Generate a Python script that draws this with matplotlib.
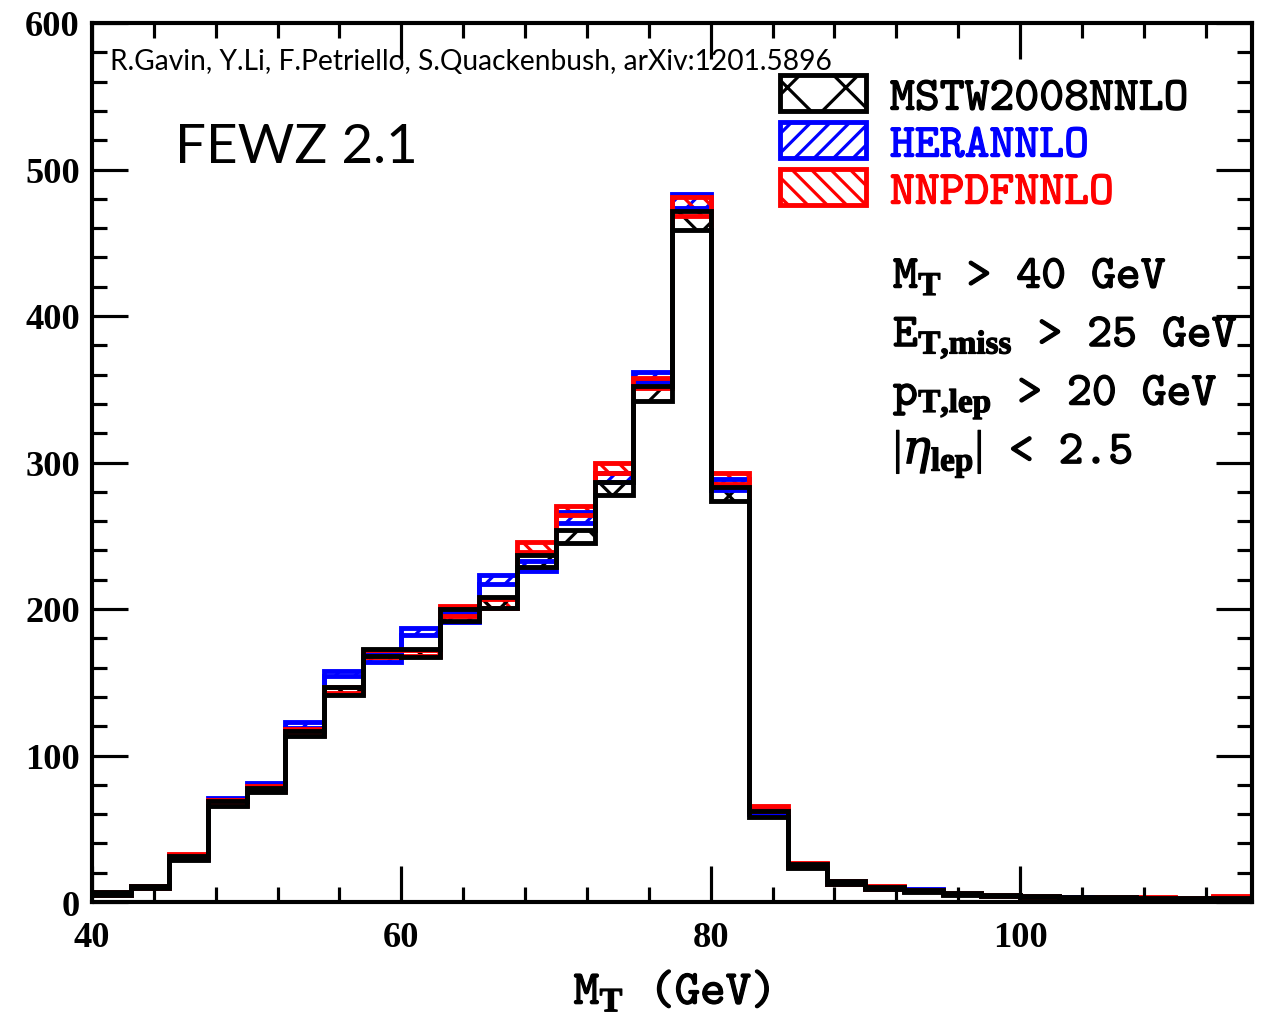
import numpy as np
import matplotlib
matplotlib.use("Agg")
import matplotlib.pyplot as plt
import matplotlib.patheffects as pe
from matplotlib.patches import Patch

# Bin edges of the transverse-mass histogram (GeV)
mt_edges = np.arange(40.0, 115.0 + 0.01, 2.5)

# PDF uncertainty bands per bin: lower / upper edge of d(sigma)/dM_T
mstw_lo = [5.0, 9.5, 29.0, 65.5, 75.0, 113.0, 141.0, 168.0, 167.0, 192.0,
           201.0, 229.0, 245.0, 278.0, 342.0, 459.0, 274.0, 58.0, 23.5, 12.5,
           9.0, 7.0, 5.0, 4.0, 3.4, 2.9, 2.6, 2.3, 2.1, 2.0]
mstw_hi = [6.5, 11.0, 31.5, 69.0, 78.0, 117.0, 147.0, 173.0, 173.0, 200.0,
           208.0, 237.0, 254.0, 287.0, 352.0, 472.0, 283.0, 62.0, 26.0, 14.0,
           10.5, 8.2, 6.0, 4.8, 4.2, 3.6, 3.2, 2.9, 2.7, 2.6]

hera_lo = [5.0, 9.5, 29.5, 68.0, 78.0, 119.0, 154.0, 164.0, 182.0, 191.0,
           217.0, 226.0, 259.0, 287.0, 355.0, 474.0, 281.0, 60.0, 24.0, 12.0,
           9.0, 7.5, 5.5, 4.3, 3.6, 3.0, 2.6, 2.3, 2.1, 2.0]
hera_hi = [6.5, 11.0, 32.0, 71.0, 81.0, 123.0, 158.0, 169.0, 187.0, 197.0,
           223.0, 233.0, 266.0, 293.0, 362.0, 483.0, 289.0, 63.0, 26.0, 14.0,
           10.5, 8.6, 6.3, 5.0, 4.3, 3.7, 3.2, 2.9, 2.7, 2.6]

nnpdf_lo = [5.0, 9.5, 30.0, 66.0, 76.0, 114.0, 143.0, 167.0, 168.0, 195.0,
            201.0, 239.0, 264.0, 293.0, 351.0, 468.0, 285.0, 62.0, 24.0, 12.5,
            9.2, 7.2, 5.2, 4.0, 3.2, 1.8, 2.4, 2.4, 1.7, 3.4]
nnpdf_hi = [6.5, 11.0, 32.5, 69.5, 79.0, 118.0, 147.0, 172.0, 172.0, 202.0,
            207.0, 246.0, 270.0, 300.0, 358.0, 481.0, 293.0, 65.5, 26.5, 14.0,
            10.6, 8.4, 6.2, 4.8, 4.0, 2.6, 3.2, 3.1, 2.4, 4.2]

pdf_names = ["MSTW2008NNLO", "HERANNLO", "NNPDFNNLO"]
pdf_colors = ["black", "blue", "red"]
pdf_hatches = ["x", "///", "\\\\\\"]

cut_labels = [
    r"M$_\mathbf{T}$ > 40 GeV",
    r"E$_\mathbf{T{,}miss}$ > 25 GeV",
    r"p$_\mathbf{T{,}lep}$ > 20 GeV",
    r"$|\eta_\mathbf{lep}|$ < 2.5",
]

y_ticks = [0, 100, 200, 300, 400, 500, 600]
x_ticks = [40, 60, 80, 100]

W, H, DPI = 1265, 1018, 175
plt.rcParams["hatch.linewidth"] = 1.3
plt.rcParams["mathtext.fontset"] = "custom"
plt.rcParams["mathtext.rm"] = "Liberation Serif"
plt.rcParams["mathtext.bf"] = "Liberation Serif:bold"
plt.rcParams["mathtext.it"] = "DejaVu Serif:italic"

fig = plt.figure(figsize=(W / DPI, H / DPI), dpi=DPI)
ax = fig.add_axes([92 / W, 1 - 903 / H, (1252 - 92) / W, (903 - 24) / H])

bands = [
    (hera_lo, hera_hi, 1),
    (nnpdf_lo, nnpdf_hi, 2),
    (mstw_lo, mstw_hi, 0),
]
for lo, hi, k in bands:
    ax.stairs(hi, mt_edges, baseline=lo, fill=True, facecolor="none",
              edgecolor=pdf_colors[k], hatch=pdf_hatches[k], linewidth=0)
for lo, hi, k in bands:
    ax.stairs(hi, mt_edges, baseline=None, color=pdf_colors[k], linewidth=2.0)
    ax.stairs(lo, mt_edges, baseline=None, color=pdf_colors[k], linewidth=2.0)

ax.set_xlim(40, 115)
ax.set_ylim(0, 600)
ax.set_xticks(x_ticks)
ax.set_xticks(np.arange(40, 115, 4), minor=True)
ax.set_yticks(y_ticks)
ax.set_yticks(np.arange(0, 601, 20), minor=True)
ax.tick_params(which="both", direction="in", top=True, right=True)
ax.tick_params(which="major", length=15, width=1.3)
ax.tick_params(which="minor", length=6, width=1.3)
ax.tick_params(axis="y", pad=5)
ax.tick_params(axis="x", pad=8)
for lab in ax.get_xticklabels() + ax.get_yticklabels():
    lab.set_fontfamily("Liberation Serif")
    lab.set_fontweight("bold")
    lab.set_fontsize(15)
for sp in ax.spines.values():
    sp.set_linewidth(1.7)

tt = "cmtt10"


def heavy(color, w=0.5):
    return [pe.withStroke(linewidth=w, foreground=color)]


# x-axis title
fig.text(672 / W, 1 - 1005 / H, r"M$_\mathbf{T}$ (GeV)", family=tt,
         fontsize=20, ha="center", va="baseline", path_effects=heavy("black"))

# Reference and program labels
fig.text(110 / W, 1 - 70 / H,
         "R.Gavin, Y.Li, F.Petriello, S.Quackenbush, arXiv:1201.5896",
         family="Lato", fontsize=11.6, ha="left", va="baseline")
fig.text(175 / W, 1 - 163 / H, "FEWZ 2.1", family="Lato", fontsize=22.5,
         ha="left", va="baseline")

# PDF legend
handles = [Patch(facecolor="none", edgecolor=c, hatch=h, linewidth=2.0)
           for c, h in zip(pdf_colors, pdf_hatches)]
leg = ax.legend(handles, pdf_names, loc="upper left",
                bbox_to_anchor=(780 / W, 1 - 76 / H),
                bbox_transform=fig.transFigure, frameon=False,
                prop={"family": tt, "size": 19.5},
                handlelength=1.82, handleheight=0.8, handletextpad=0.5,
                labelspacing=0.03, borderpad=0, borderaxespad=0,
                labelcolor=pdf_colors)
for t, c in zip(leg.get_texts(), pdf_colors):
    t.set_path_effects(heavy(c))

# Kinematic cuts
for i, txt in enumerate(cut_labels):
    fig.text(893 / W, 1 - (289 + 58.5 * i) / H, txt, family=tt,
             fontsize=19.5, ha="left", va="baseline",
             path_effects=heavy("black"))

fig.savefig("out.png", dpi=DPI)
